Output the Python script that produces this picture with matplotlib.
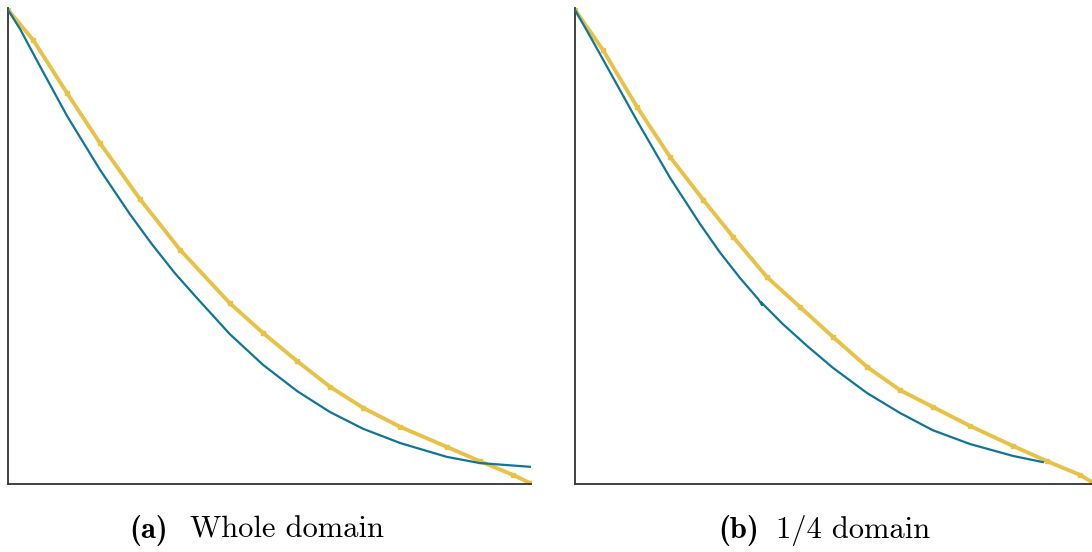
import matplotlib
matplotlib.use('Agg')
import matplotlib.pyplot as plt

# curves (x and y scaled to 0..1)
whole_x_ref = [0, 0.023, 0.061, 0.113, 0.176, 0.233, 0.275, 0.319, 0.361, 0.424, 0.488,
               0.553, 0.616, 0.679, 0.750, 0.839, 0.902, 1.0]
whole_y_ref = [0.996, 0.956, 0.878, 0.773, 0.660, 0.567, 0.504, 0.443, 0.391, 0.315, 0.250,
               0.195, 0.151, 0.116, 0.086, 0.057, 0.044, 0.036]
whole_x_sim = [0, 0.048, 0.113, 0.176, 0.252, 0.329, 0.424, 0.488, 0.553, 0.616, 0.679,
               0.750, 0.839, 0.902, 0.966, 0.998]
whole_y_sim = [0.996, 0.933, 0.821, 0.716, 0.599, 0.492, 0.380, 0.317, 0.258, 0.204, 0.160,
               0.120, 0.078, 0.048, 0.019, 0.002]

quarter_x_ref = [0, 0.029, 0.074, 0.120, 0.184, 0.242, 0.280, 0.319, 0.354, 0.362, 0.360,
                 0.369, 0.402, 0.449, 0.499, 0.565, 0.629, 0.692, 0.764, 0.847, 0.905]
quarter_y_ref = [0.996, 0.941, 0.853, 0.763, 0.643, 0.546, 0.487, 0.433, 0.389, 0.376, 0.382,
                 0.372, 0.336, 0.290, 0.244, 0.191, 0.149, 0.113, 0.084, 0.059, 0.046]
quarter_x_sim = [0, 0.054, 0.120, 0.184, 0.248, 0.306, 0.371, 0.435, 0.499, 0.565,
                 0.629, 0.692, 0.764, 0.847, 0.913, 0.977, 1.0]
quarter_y_sim = [0.996, 0.912, 0.792, 0.687, 0.597, 0.519, 0.435, 0.372, 0.309, 0.246,
                 0.197, 0.162, 0.122, 0.080, 0.048, 0.019, 0.004]

tags = ['(a)', '(b)']
captions = ['Whole domain', '1/4 domain']

blue = '#0f7599'
yellow = '#e8c147'

fig = plt.figure(figsize=(10.92, 5.52), dpi=100)
ax1 = fig.add_axes([8/1092, 68/552, 523/1092, 476/552])
ax2 = fig.add_axes([575/1092, 68/552, 517/1092, 476/552])

panels = [(ax1, whole_x_ref, whole_y_ref, whole_x_sim, whole_y_sim),
          (ax2, quarter_x_ref, quarter_y_ref, quarter_x_sim, quarter_y_sim)]

for ax, xr, yr, xs, ys in panels:
    ax.plot(xs, ys, color=yellow, lw=2.8, marker='s', ms=3, zorder=2)
    ax.plot(xr, yr, color=blue, lw=1.6, zorder=3)
    ax.set_xlim(0, 1)
    ax.set_ylim(0, 1.0)
    ax.set_xticks([])
    ax.set_yticks([])
    for s in ['top', 'right']:
        ax.spines[s].set_visible(False)
    for s in ['left', 'bottom']:
        ax.spines[s].set_color('#333333')
        ax.spines[s].set_linewidth(1.3)

# sub-captions: bold tag + roman text (Computer Modern fonts shipped with matplotlib)
tag_right = [168, 759]
text_left = [190, 776]
for tag, cap, xr_, xl_ in zip(tags, captions, tag_right, text_left):
    fig.text(xr_/1092, 1 - 530/552, tag, ha='right', va='center', fontsize=22, family='cmb10')
    fig.text(xl_/1092, 1 - 530/552, cap, ha='left', va='center', fontsize=22, family='cmr10')

fig.savefig('out.png', dpi=100)
